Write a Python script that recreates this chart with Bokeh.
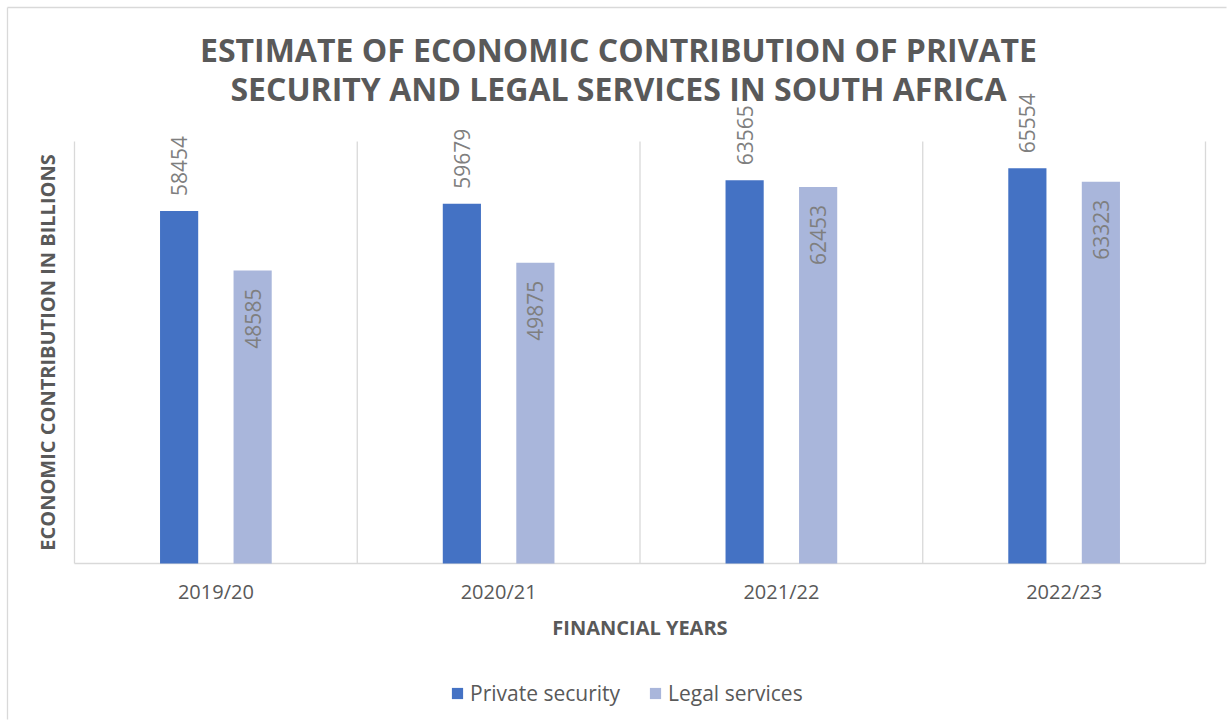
import math
from bokeh.plotting import figure
from bokeh.models import (ColumnDataSource, Range1d, LabelSet, Legend, LegendItem)
from bokeh.transform import dodge
from bokeh.core.properties import value
from bokeh.embed import file_html
from bokeh.resources import INLINE

# ---------------- data ----------------
years = ["2019/20", "2020/21", "2021/22", "2022/23"]
private_security = [58454, 59679, 63565, 65554]
legal_services = [48585, 49875, 62453, 63323]
y_axis_max = 70000

title_lines = ["ESTIMATE OF ECONOMIC CONTRIBUTION OF PRIVATE",
               "SECURITY AND LEGAL SERVICES IN SOUTH AFRICA"]
x_title = "FINANCIAL YEARS"
y_title = "ECONOMIC CONTRIBUTION IN BILLIONS"
series_names = ["Private security", "Legal services"]

# ---------------- style ----------------
GREY = "#595959"
LABEL_GREY = "#7F7F7F"
LINE_GREY = "#d9d9d9"
C_PRIVATE = "#4472C4"
C_LEGAL = "#A9B6DB"
FONT = "Open Sans"

W, H = 1231, 724
FX0, FX1, FY0, FY1 = 5, W - 5, 5, H - 5          # frame in page pixels
PL, PR, PT, PB = 74, 1205, 141, 563                # plot area in page pixels
n = len(years)
sx = (PR - PL) / n
sy = (PB - PT) / y_axis_max


def dx(px):
    return (px - PL) / sx


def dy(py):
    return (PB - py) / sy


p = figure(width=W, height=H, title=None,
           x_range=Range1d(dx(FX0), dx(FX1)), y_range=Range1d(dy(FY1), dy(FY0)),
           x_axis_location=None, y_axis_location=None,
           output_backend="svg", toolbar_location=None)
p.grid.visible = False
p.outline_line_color = None

x_center = [i + 0.5 for i in range(n)]
src = ColumnDataSource(dict(
    x=x_center,
    year=years,
    private=private_security,
    legal=legal_services,
    private_label=[str(v) for v in private_security],
    legal_label=[str(v) for v in legal_services],
))

# outer chart border (top and left)
p.segment(x0=[dx(7), dx(7)], y0=[dy(7), dy(7)], x1=[dx(W), dx(7)], y1=[dy(7), dy(H)],
          line_color=LINE_GREY, line_width=1.3)

# category separators and base line
p.segment(x0=list(range(n + 1)), y0=[0] * (n + 1), x1=list(range(n + 1)),
          y1=[y_axis_max] * (n + 1), line_color=LINE_GREY, line_width=1.3)
p.segment(x0=[0], y0=[0], x1=[n], y1=[0], line_color=LINE_GREY, line_width=1.3)

# bars
off = 0.13
bw = 0.135
r1 = p.vbar(x=dodge("x", -off), top="private", width=bw, source=src,
            fill_color=C_PRIVATE, line_color=None)
r2 = p.vbar(x=dodge("x", off), top="legal", width=bw, source=src,
            fill_color=C_LEGAL, line_color=None)

# data labels (rotated)
p.add_layout(LabelSet(x=dodge("x", -off), y="private", text="private_label", source=src,
                      angle=math.pi / 2, text_align="left", text_baseline="middle",
                      y_offset=15, text_font_size="21px", text_color=LABEL_GREY,
                      text_font=value(FONT)))
p.add_layout(LabelSet(x=dodge("x", off), y="legal", text="legal_label", source=src,
                      angle=math.pi / 2, text_align="right", text_baseline="middle",
                      y_offset=-18, text_font_size="21px", text_color=LABEL_GREY,
                      text_font=value(FONT)))

# category labels
p.text(x="x", y=dy(591), text="year", source=src, text_align="center",
       text_baseline="middle", text_font=value(FONT), text_font_size="20px",
       text_color=GREY)

# axis titles
p.text(x=[n / 2], y=[dy(627)], text=[x_title], text_align="center",
       text_baseline="middle", text_font=value(FONT), text_font_size="20px",
       text_font_style="bold", text_color=GREY)
p.text(x=[dx(47)], y=[y_axis_max / 2], text=[y_title], angle=math.pi / 2,
       text_align="center", text_baseline="middle", text_font=value(FONT),
       text_font_size="20px", text_font_style="bold", text_color=GREY)

# chart title (two lines)
p.text(x=[dx(618), dx(618)], y=[dy(49), dy(88)], text=title_lines,
       text_align="center", text_baseline="middle", text_font=value(FONT),
       text_font_size="32px", text_font_style="bold", text_color=GREY)

# legend
legend = Legend(items=[LegendItem(label=series_names[0], renderers=[r1]),
                       LegendItem(label=series_names[1], renderers=[r2])],
                orientation="horizontal", location=(445, 12),
                glyph_width=14, glyph_height=14, label_standoff=6, spacing=28,
                padding=0, margin=0,
                label_text_font=FONT, label_text_font_size="21px",
                label_text_color=GREY, border_line_color=None,
                background_fill_alpha=0)
p.add_layout(legend)

open("out.html", "w").write(file_html(p, INLINE))
